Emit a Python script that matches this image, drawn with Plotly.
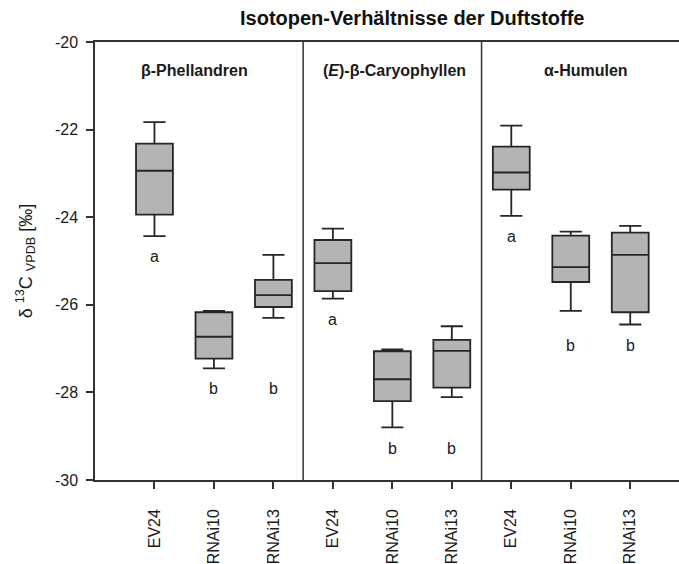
import plotly.graph_objects as go

# ---- data ----
groups = ["<b>β-Phellandren</b>", "<b>(<i>E</i>)-β-Caryophyllen</b>", "<b>α-Humulen</b>"]
genotypes = ["EV24", "RNAi10", "RNAi13"]
upper = [-21.83, -26.14, -24.86, -24.26, -27.02, -26.49, -21.91, -24.33, -24.20]
q3 = [-22.32, -26.17, -25.43, -24.52, -27.06, -26.80, -22.39, -24.42, -24.35]
median = [-22.94, -26.73, -25.78, -25.05, -27.70, -27.05, -22.98, -25.14, -24.86]
q1 = [-23.94, -27.23, -26.05, -25.69, -28.20, -27.89, -23.37, -25.48, -26.17]
lower = [-24.43, -27.45, -26.30, -25.86, -28.80, -28.11, -23.97, -26.14, -26.45]
letters = ["a", "b", "b", "a", "b", "b", "a", "b", "b"]
ytickvals = [-30, -28, -26, -24, -22, -20]
yticktext = ["-30", "-28", "-26", "-24", "-22", "-20"]
title = "Isotopen-Verhältnisse der Duftstoffe"
ytitle = "δ <sup>13</sup>C <sub>VPDB</sub> [‰]"

FONT = "Liberation Sans, Arial, sans-serif"
positions = list(range(1, 10))
ticktext = genotypes * 3

fig = go.Figure()
fig.add_trace(go.Box(
    x=positions, q1=q1, median=median, q3=q3,
    lowerfence=lower, upperfence=upper,
    width=0.62, whiskerwidth=0.6,
    fillcolor="#b4b4b4", line=dict(color="#262626", width=1.8),
    boxpoints=False, showlegend=False, hoverinfo="skip",
))

annotations = []
# significance letters
for gi in range(3):
    idx = [gi * 3 + k for k in range(3)]
    for letter in set(letters[i] for i in idx):
        members = [i for i in idx if letters[i] == letter]
        ybase = min(lower[i] for i in members) - 0.47
        for i in members:
            annotations.append(dict(x=positions[i], y=ybase, xref="x", yref="y",
                                    text=letters[i], showarrow=False,
                                    font=dict(family=FONT, size=16, color="#1a1a1a"),
                                    yanchor="middle"))

# panel labels
panel_x = [1.68, 5.03, 8.26]
for g, px in zip(groups, panel_x):
    annotations.append(dict(x=px, y=-20.64, xref="x", yref="y", text=g,
                            showarrow=False, yanchor="middle",
                            font=dict(family=FONT, size=16, color="#1a1a1a")))

annotations.append(dict(x=0.543, y=1.0545, xref="paper", yref="paper",
                        text="<b>" + title + "</b>", showarrow=False,
                        yanchor="middle", xanchor="center",
                        font=dict(family=FONT, size=20, color="#111111")))

shapes = []
for sx in [3.5, 6.5]:
    shapes.append(dict(type="line", xref="x", yref="y", x0=sx, x1=sx,
                       y0=-30, y1=-20, line=dict(color="#333333", width=1.5)))

fig.update_layout(
    width=679, height=564,
    margin=dict(l=95, r=0, t=42, b=82),
    paper_bgcolor="white", plot_bgcolor="white",
    annotations=annotations, shapes=shapes,
    xaxis=dict(range=[0, 9.82], tickmode="array", tickvals=positions,
               ticktext=ticktext, tickangle=-90, ticks="outside", ticklen=7,
               tickwidth=1.5, tickcolor="#333333",
               showline=True, linecolor="#333333", linewidth=1.5, mirror=True,
               showgrid=False, zeroline=False, ticklabelstandoff=14,
               tickfont=dict(family=FONT, size=16, color="#1a1a1a")),
    yaxis=dict(range=[-30, -20], tickmode="array", tickvals=ytickvals,
               ticktext=yticktext, ticks="outside", ticklen=7,
               tickwidth=1.5, tickcolor="#333333",
               showline=True, linecolor="#333333", linewidth=1.5,
               showgrid=False, zeroline=False, ticklabelstandoff=5,
               tickfont=dict(family=FONT, size=16, color="#1a1a1a"),
               title=dict(text=ytitle, standoff=18,
                          font=dict(family=FONT, size=18, color="#1a1a1a"))),
)

fig.write_html("out.html")
